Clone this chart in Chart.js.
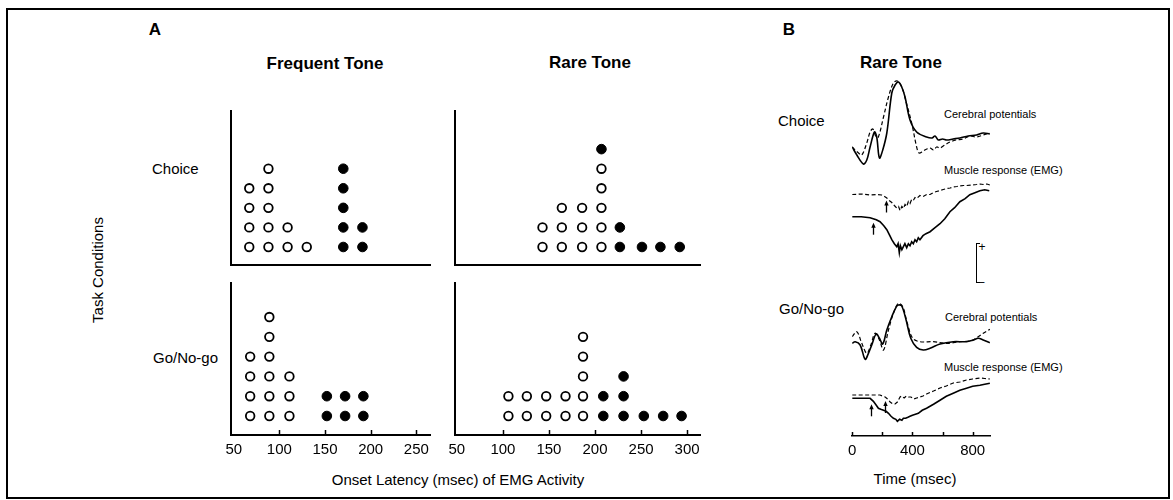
<!DOCTYPE html>
<html>
<head>
<meta charset="utf-8">
<script src="https://cdn.jsdelivr.net/npm/chart.js@4.4.1/dist/chart.umd.min.js"></script>
<style>
html,body{margin:0;padding:0;background:#fff;}
#page{position:relative;width:1173px;height:500px;overflow:hidden;background:#fff;font-family:"Liberation Sans",Arial,sans-serif;color:#000;}
#frame{position:absolute;left:6px;top:8px;width:1164px;height:491px;border:2px solid #000;box-sizing:border-box;}
.lbl{position:absolute;white-space:nowrap;line-height:1;}
.c{transform:translate(-50%,-50%);}
.l{transform:translateY(-50%);}
.h{font-weight:bold;font-size:17px;}
.m{font-size:15px;}
.s{font-size:11px;}
canvas{position:absolute;}
#cal{position:absolute;left:976px;top:243px;width:4px;height:40px;border:1.5px solid #000;border-right:none;box-sizing:border-box;}
</style>
</head>
<body>
<div id="page">
  <div id="frame"></div>

  <div class="lbl c h" style="left:155px;top:29px">A</div>
  <div class="lbl c h" style="left:789px;top:29px">B</div>
  <div class="lbl c h" style="left:325px;top:63px">Frequent Tone</div>
  <div class="lbl c h" style="left:590px;top:62px">Rare Tone</div>
  <div class="lbl c h" style="left:901px;top:62px">Rare Tone</div>

  <div class="lbl l m" style="left:152px;top:168px">Choice</div>
  <div class="lbl l m" style="left:153px;top:357px">Go/No-go</div>
  <div class="lbl m" style="left:97px;top:270px;transform:translate(-50%,-50%) rotate(-90deg)">Task Conditions</div>
  <div class="lbl c m" style="left:458px;top:479px">Onset Latency (msec) of EMG Activity</div>

  <div class="lbl l m" style="left:778px;top:120px">Choice</div>
  <div class="lbl l m" style="left:779px;top:308px">Go/No-go</div>
  <div class="lbl l s" style="left:944px;top:114px">Cerebral potentials</div>
  <div class="lbl l s" style="left:944px;top:170px">Muscle response (EMG)</div>
  <div class="lbl l s" style="left:945px;top:317px">Cerebral potentials</div>
  <div class="lbl l s" style="left:944px;top:367px">Muscle response (EMG)</div>
  <div class="lbl c m" style="left:915px;top:478px">Time (msec)</div>
  <div id="cal"></div>
  <div class="lbl c" style="left:982px;top:247px;font-size:12px">+</div>
  <div class="lbl c" style="left:981px;top:282px;font-size:12px">–</div>

  <canvas id="fc" width="239" height="159" style="left:211px;top:110px"></canvas>
  <canvas id="rc" width="285" height="159" style="left:435px;top:110px"></canvas>
  <canvas id="fg" width="239" height="183" style="left:211px;top:282px"></canvas>
  <canvas id="rg" width="285" height="183" style="left:435px;top:282px"></canvas>
  <canvas id="tb" width="168" height="396" style="left:842px;top:70px"></canvas>
</div>

<script>
// === Panel A: onset latency (msec) columns, open = correct, filled = other ===
const FREQ_CHOICE_X      = [67, 88, 109, 130, 170, 191];
const FREQ_CHOICE_OPEN   = [4, 5, 2, 1, 0, 0];
const FREQ_CHOICE_FILLED = [0, 0, 0, 0, 5, 2];

const RARE_CHOICE_X      = [143, 164, 186, 207, 227, 251, 271, 292];
const RARE_CHOICE_OPEN   = [2, 3, 3, 5, 0, 0, 0, 0];
const RARE_CHOICE_FILLED = [0, 0, 0, 1, 2, 1, 1, 1];

const FREQ_GO_X      = [68, 89, 111, 152, 172, 192];
const FREQ_GO_OPEN   = [4, 6, 3, 0, 0, 0];
const FREQ_GO_FILLED = [0, 0, 0, 2, 2, 2];

const RARE_GO_X      = [106, 126, 147, 168, 187, 209, 231, 253, 274, 294];
const RARE_GO_OPEN   = [2, 2, 2, 2, 5, 0, 0, 0, 0, 0];
const RARE_GO_FILLED = [0, 0, 0, 0, 0, 2, 3, 1, 1, 1];

const FREQ_TICKS = [50, 100, 150, 200, 250];
const RARE_TICKS = [50, 100, 150, 200, 250, 300];

// === Panel B: averaged traces (time in msec, amplitude in arbitrary units) ===
const TIME_TICKS  = [0, 200, 400, 600, 800];
const TIME_LABELS = ['0', '', '400', '', '800'];

const CH_CER_T_SOLID = [0,31,75,97,119,148,163,181,203,230,263,285,307,329,351,384,428,494,530,550,572,600,627,670,715,770,826,870,914];
const CH_CER_SOLID   = [0,-8,-17,-13,0,15,10,-11,-3,14,54,62,65,60,50,27,15,10,9,11,7,8,7,8,9,11,12,14,13];
const CH_CER_T_DASH  = [0,42,64,97,119,137,159,174,208,241,274,300,329,358,395,428,444,472,495,517,540,561,583,605,649,690,737,780,826,870,914];
const CH_CER_DASH    = [0,-6,-8,4,15,18,10,10,30,50,64,66,60,45,24,0,-6,-4,-2,-1,-3,0,-1,1,5,7,8,11,10,12,14];

const CH_EMG_T_SOLID = [0,60,119,160,185,210,230,250,263,280,296,305,313,320,330,340,350,362,373,384,395,406,417,428,439,450,470,490,517,550,583,615,649,680,715,750,781,815,848,880,910];
const CH_EMG_SOLID   = [0,0,-1,-3,-5,-9,-13,-19,-23,-27,-30,-27,-36,-29,-33,-30,-27,-31,-27,-29,-25,-27,-23,-25,-21,-23,-19,-17,-15,-11,-7,-2,5,9,15,18,22,24,26,27,26];
const CH_EMG_T_DASH  = [0,60,119,160,196,215,230,245,263,280,296,308,318,330,340,351,362,373,384,395,406,417,428,450,470,495,517,539,560,583,605,627,650,671,695,715,740,760,790,826,850,870,895,914];
const CH_EMG_DASH    = [0,0.5,-0.5,0,-0.5,-2,-3.5,-6,-8,-11,-13.5,-12,-16,-12,-14,-10,-12,-7,-9,-5,-6,-3,-4,-1,-2,0,0,2,3,4,5,6,6.5,7.5,8,8.5,9,9,9.5,10,10.5,10,10.5,9.5];

const GO_CER_T_SOLID = [0,20,53,86,108,130,159,181,203,230,263,291,307,329,358,389,428,472,517,583,671,759,804,837,870,914];
const GO_CER_SOLID   = [0,1.6,-1.7,-16,-10,-1.7,9.3,5,-0.7,13.3,26.6,36,38.3,37.3,23.3,5,-4,-6.7,-5,-0.7,1.6,1.6,3.3,5,3.3,0.6];
const GO_CER_T_DASH  = [0,31,64,97,124,152,181,208,241,274,307,336,366,402,450,539,627,715,792,837,870,914];
const GO_CER_DASH    = [6.6,11.6,0,-10,-1.7,10,3.3,-6.7,13.3,30,40,36.6,20,5,1.6,1.6,0,1.6,2.6,6.6,10,14];

const GO_EMG_T_SOLID = [0,60,119,141,160,174,190,208,225,241,258,274,290,300,315,330,340,355,370,384,400,420,439,465,494,540,583,625,671,715,759,800,848,880,914];
const GO_EMG_SOLID   = [0,0,0,-3,-7,-10,-11,-12,-13,-15,-18,-20,-21,-23,-21,-22,-20,-20,-19,-18,-17,-16,-15,-12,-10,-6,-2,2,5,8,10,12,13,14,15];
const GO_EMG_T_DASH  = [0,100,185,200,219,235,252,270,285,300,307,318,329,345,360,373,390,410,428,450,470,494,540,583,625,671,715,759,800,848,880,914];
const GO_EMG_DASH    = [0,0,0,-1,-2,-4,-7,-9,-9,-7,-5,-2,-1,-3,-1,-2,-2,-4,-3,-2,-1,1,4,7,9,12,13,15,16,17,16.5,16];

// EMG onset times marked with arrows
const CH_ONSET_SOLID = 135, CH_ONSET_DASH = 223;
const GO_ONSET_SOLID = 124, GO_ONSET_DASH = 219;

// vertical stacking of the traces (layout, not data)
const BASE = {chCer: 289, chEmgDash: 241.5, chEmgSolid: 219.3, goCer: 92.7, goEmgDash: 41, goEmgSolid: 37.7};

Chart.defaults.font.family = '"Liberation Sans", Arial, sans-serif';
Chart.defaults.color = '#000';

// ticks drawn upward from the axis line
const upTicks = {
  id: 'upTicks',
  afterDraw(chart, args, opts) {
    const vals = opts.values || [];
    const {ctx, scales: {x}, chartArea} = chart;
    ctx.save();
    ctx.strokeStyle = '#000';
    ctx.lineWidth = 1.5;
    vals.forEach(v => {
      const px = Math.round(x.getPixelForValue(v)) + 0.5;
      ctx.beginPath();
      ctx.moveTo(px, chartArea.bottom);
      ctx.lineTo(px, chartArea.bottom - opts.len);
      ctx.stroke();
    });
    ctx.restore();
  }
};

function dotPlot(id, xs, nOpen, nFilled, xMin, xMax, yMin, yMax, ticks, labelled) {
  const open = [], filled = [];
  xs.forEach((x, i) => {
    for (let k = 1; k <= nOpen[i]; k++) open.push({x, y: k});
    for (let k = 1; k <= nFilled[i]; k++) filled.push({x, y: nOpen[i] + k});
  });
  new Chart(document.getElementById(id), {
    type: 'scatter',
    data: {datasets: [
      {data: open, pointRadius: 4.3, pointBorderWidth: 1.8, pointBackgroundColor: '#fff', pointBorderColor: '#000'},
      {data: filled, pointRadius: 4.8, pointBorderWidth: 1, pointBackgroundColor: '#000', pointBorderColor: '#000'}
    ]},
    options: {
      responsive: false, animation: false, clip: false,
      layout: {padding: {left: 0, right: 20, top: 0, bottom: 0}, autoPadding: false},
      plugins: {legend: {display: false}, tooltip: {enabled: false},
                upTicks: {values: labelled ? ticks.slice(1) : [], len: 5}},
      scales: {
        x: {type: 'linear', min: xMin, max: xMax,
            afterBuildTicks: s => { s.ticks = ticks.map(v => ({value: v})); },
            afterFit: s => { s.height = labelled ? 30 : 4; },
            grid: {display: false, drawTicks: false},
            border: {display: true, color: '#000', width: 2},
            ticks: {display: labelled, padding: 6, font: {size: 15}, maxRotation: 0}},
        y: {min: yMin, max: yMax,
            afterFit: s => { s.width = 20; },
            grid: {display: false, drawTicks: false},
            border: {display: true, color: '#000', width: 2},
            ticks: {display: false}}
      }
    },
    plugins: [upTicks]
  });
}

dotPlot('fc', FREQ_CHOICE_X, FREQ_CHOICE_OPEN, FREQ_CHOICE_FILLED, 47, 265, 0.08, 8.0, FREQ_TICKS, false);
dotPlot('rc', RARE_CHOICE_X, RARE_CHOICE_OPEN, RARE_CHOICE_FILLED, 48, 314, 0.08, 8.0, RARE_TICKS, false);
dotPlot('fg', FREQ_GO_X, FREQ_GO_OPEN, FREQ_GO_FILLED, 47, 265, 0.04, 7.77, FREQ_TICKS, true);
dotPlot('rg', RARE_GO_X, RARE_GO_OPEN, RARE_GO_FILLED, 48, 314, 0.04, 7.77, RARE_TICKS, true);

// === Panel B ===
function trace(ts, amps, base, dashed, smooth) {
  return {
    data: ts.map((t, i) => ({x: t, y: base + amps[i]})),
    showLine: true, pointRadius: 0, fill: false,
    borderColor: '#000', borderWidth: dashed ? 1.2 : 1.6,
    borderDash: dashed ? [4, 2.5] : [],
    tension: smooth ? 0.35 : 0
  };
}

const onsetArrows = {
  id: 'onsetArrows',
  afterDatasetsDraw(chart, args, opts) {
    const {ctx, scales: {x, y}} = chart;
    ctx.save();
    ctx.strokeStyle = '#000';
    ctx.fillStyle = '#000';
    ctx.lineWidth = 1.3;
    opts.items.forEach(a => {
      const px = Math.round(x.getPixelForValue(a.t)) + 0.5;
      const tip = y.getPixelForValue(a.base) + 6;
      ctx.beginPath();
      ctx.moveTo(px, tip + 12);
      ctx.lineTo(px, tip + 3);
      ctx.stroke();
      ctx.beginPath();
      ctx.moveTo(px, tip);
      ctx.lineTo(px - 2.2, tip + 5);
      ctx.lineTo(px + 2.2, tip + 5);
      ctx.closePath();
      ctx.fill();
    });
    ctx.restore();
  }
};

new Chart(document.getElementById('tb'), {
  type: 'scatter',
  data: {datasets: [
    trace(CH_CER_T_SOLID, CH_CER_SOLID, BASE.chCer, false, true),
    trace(CH_CER_T_DASH, CH_CER_DASH, BASE.chCer, true, true),
    trace(CH_EMG_T_DASH, CH_EMG_DASH, BASE.chEmgDash, true, false),
    trace(CH_EMG_T_SOLID, CH_EMG_SOLID, BASE.chEmgSolid, false, false),
    trace(GO_CER_T_SOLID, GO_CER_SOLID, BASE.goCer, false, true),
    trace(GO_CER_T_DASH, GO_CER_DASH, BASE.goCer, true, true),
    trace(GO_EMG_T_DASH, GO_EMG_DASH, BASE.goEmgDash, true, false),
    trace(GO_EMG_T_SOLID, GO_EMG_SOLID, BASE.goEmgSolid, false, false)
  ]},
  options: {
    responsive: false, animation: false,
    layout: {padding: {left: 10, right: 20, top: 0, bottom: 0}, autoPadding: false},
    plugins: {
      legend: {display: false}, tooltip: {enabled: false},
      upTicks: {values: TIME_TICKS, len: 4},
      onsetArrows: {items: [
        {t: CH_ONSET_SOLID, base: BASE.chEmgSolid},
        {t: CH_ONSET_DASH, base: BASE.chEmgDash},
        {t: GO_ONSET_SOLID, base: BASE.goEmgSolid},
        {t: GO_ONSET_DASH, base: BASE.goEmgDash}
      ]}
    },
    scales: {
      x: {type: 'linear', min: 0, max: 915,
          afterBuildTicks: s => { s.ticks = TIME_TICKS.map(v => ({value: v})); },
          afterFit: s => { s.height = 30; },
          grid: {display: false, drawTicks: false},
          border: {display: true, color: '#000', width: 1.5},
          ticks: {padding: 6, font: {size: 15}, maxRotation: 0, callback: (v, i) => TIME_LABELS[i]}},
      y: {display: false, min: 0, max: 366}
    }
  },
  plugins: [upTicks, onsetArrows]
});
</script>
</body>
</html>
